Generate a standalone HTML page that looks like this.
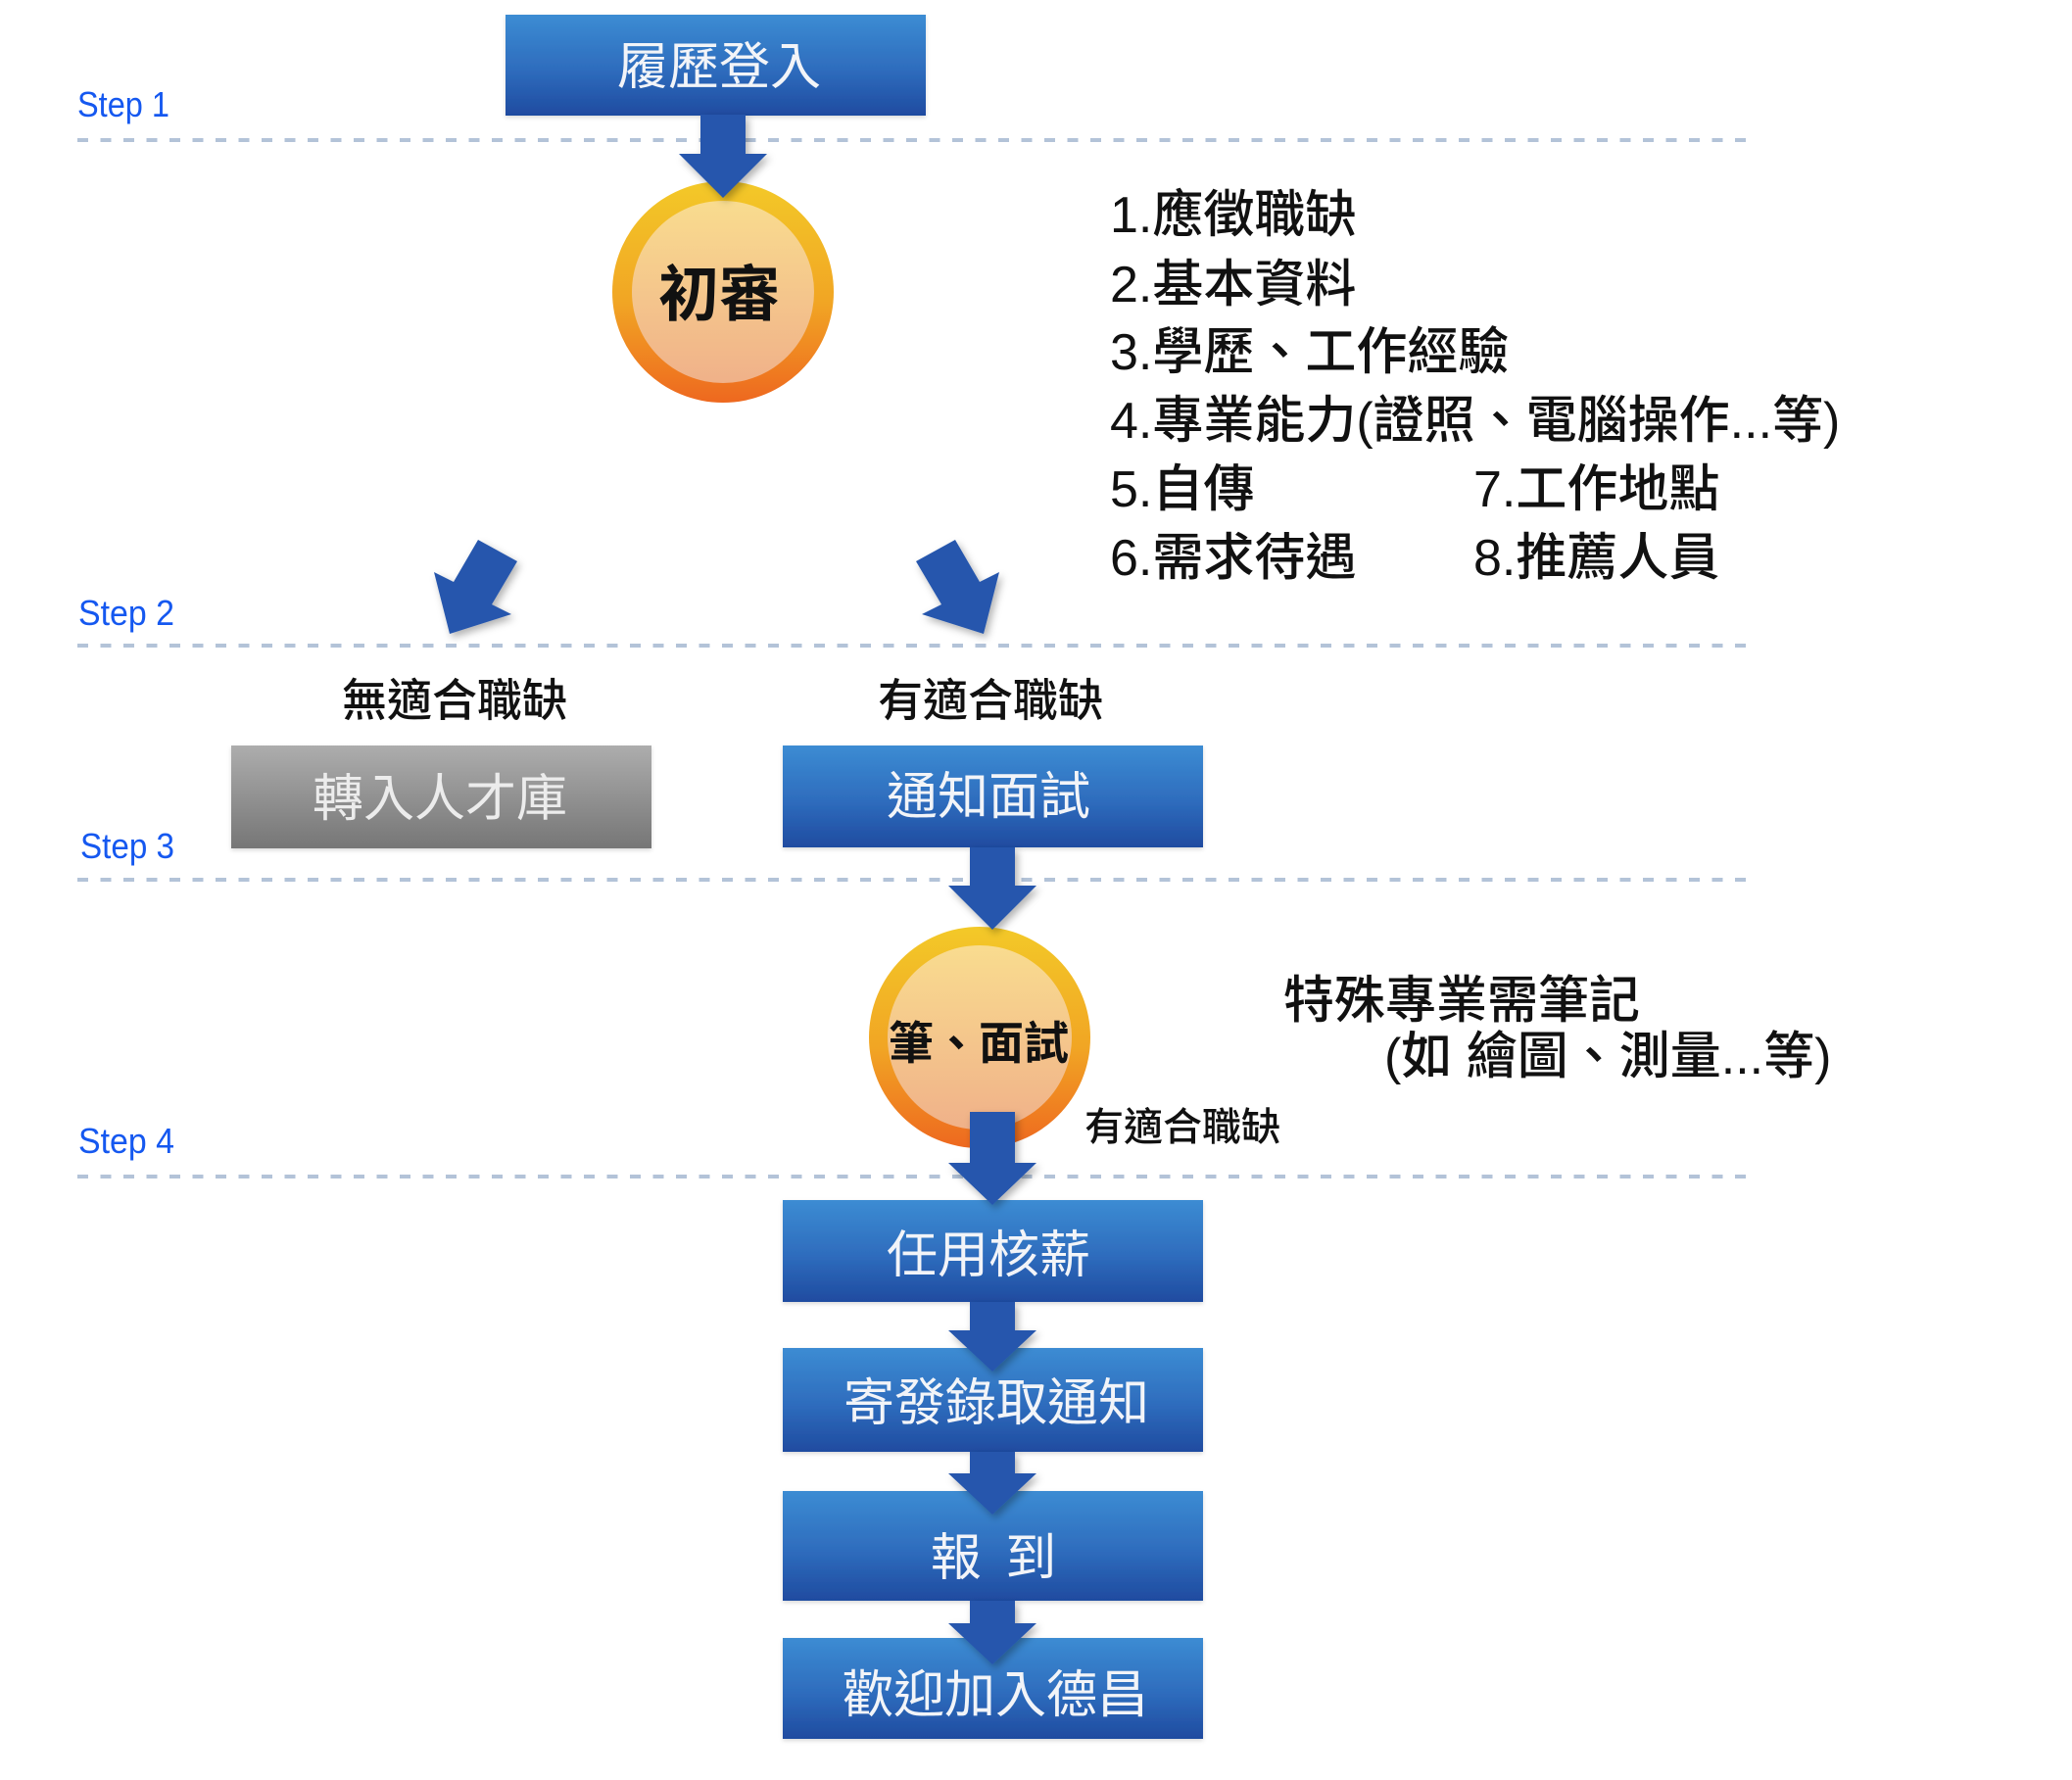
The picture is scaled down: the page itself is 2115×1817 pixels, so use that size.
<!DOCTYPE html>
<html>
<head>
<meta charset="utf-8">
<style>
  html,body{margin:0;padding:0;background:#fff;}
  svg{display:block;}
  .cjk{font-family:"Liberation Sans","Noto Sans CJK TC","Noto Sans CJK SC",sans-serif;}
  .step{font-family:"Liberation Sans",sans-serif;fill:#1558f0;}
</style>
</head>
<body>
<svg width="2115" height="1817" viewBox="0 0 2115 1817" xmlns="http://www.w3.org/2000/svg">
  <defs>
    <linearGradient id="bb" x1="0" y1="0" x2="0" y2="1">
      <stop offset="0" stop-color="#3c8cd3"/>
      <stop offset="0.55" stop-color="#2e6cbd"/>
      <stop offset="1" stop-color="#1f4ba0"/>
    </linearGradient>
    <linearGradient id="gg" x1="0" y1="0" x2="0" y2="1">
      <stop offset="0" stop-color="#adadad"/>
      <stop offset="1" stop-color="#767676"/>
    </linearGradient>
    <linearGradient id="ring" x1="0" y1="0" x2="0" y2="1">
      <stop offset="0" stop-color="#f3c928"/>
      <stop offset="0.55" stop-color="#f1a524"/>
      <stop offset="1" stop-color="#ee681f"/>
    </linearGradient>
    <linearGradient id="inner" x1="0" y1="0" x2="0" y2="1">
      <stop offset="0" stop-color="#f9dc8f"/>
      <stop offset="1" stop-color="#f0b189"/>
    </linearGradient>
    <filter id="sh" x="-30%" y="-30%" width="160%" height="160%">
      <feDropShadow dx="3" dy="4" stdDeviation="4" flood-color="#000" flood-opacity="0.3"/>
    </filter>
    <filter id="bsh" x="-5%" y="-10%" width="110%" height="125%">
      <feDropShadow dx="0" dy="2" stdDeviation="2" flood-color="#000" flood-opacity="0.15"/>
    </filter>
  </defs>

  <!-- dashed step lines -->
  <g stroke="#b3c3d8" stroke-width="4" stroke-dasharray="11 12.5">
    <line x1="79" y1="143" x2="1787" y2="143"/>
    <line x1="79" y1="659" x2="1787" y2="659"/>
    <line x1="79" y1="898" x2="1787" y2="898"/>
    <line x1="79" y1="1201" x2="1787" y2="1201"/>
  </g>

  <!-- step labels -->
  <text class="step" x="79" y="119" font-size="36" textLength="94" lengthAdjust="spacingAndGlyphs">Step 1</text>
  <text class="step" x="80" y="638" font-size="36" textLength="98" lengthAdjust="spacingAndGlyphs">Step 2</text>
  <text class="step" x="82" y="876" font-size="36" textLength="96" lengthAdjust="spacingAndGlyphs">Step 3</text>
  <text class="step" x="80" y="1177" font-size="36" textLength="98" lengthAdjust="spacingAndGlyphs">Step 4</text>

  <!-- boxes -->
  <g filter="url(#bsh)">
    <rect x="516" y="15" width="429" height="103" fill="url(#bb)"/>
    <rect x="236" y="761" width="429" height="105" fill="url(#gg)"/>
    <rect x="799" y="761" width="429" height="104" fill="url(#bb)"/>
    <rect x="799" y="1225" width="429" height="104" fill="url(#bb)"/>
    <rect x="799" y="1376" width="429" height="106" fill="url(#bb)"/>
    <rect x="799" y="1522" width="429" height="112" fill="url(#bb)"/>
    <rect x="799" y="1672" width="429" height="103" fill="url(#bb)"/>
  </g>

  <!-- circles -->
  <circle cx="738" cy="298" r="113" fill="url(#ring)"/>
  <circle cx="738" cy="298" r="93" fill="url(#inner)"/>
  <circle cx="1000" cy="1059" r="113" fill="url(#ring)"/>
  <circle cx="1000" cy="1059" r="94" fill="url(#inner)"/>

  <!-- arrows -->
  <g fill="#2557ad" filter="url(#sh)">
    <path d="M715 117 L761 117 L761 157 L783 157 L738 202 L693 157 L715 157 Z"/>
    <path d="M488 551 L528 573 L502 617 L522 627 L459 647 L443 584 L463 594 Z"/>
    <path d="M975 551 L935 573 L961 617 L941 627 L1004 647 L1020 584 L1000 594 Z"/>
    <path d="M990 865 L1036 865 L1036 904 L1058 904 L1013 949 L968 904 L990 904 Z"/>
    <path d="M990 1135 L1036 1135 L1036 1187 L1058 1187 L1013 1230 L968 1187 L990 1187 Z"/>
    <path d="M990 1329 L1036 1329 L1036 1358 L1058 1358 L1013 1400 L968 1358 L990 1358 Z"/>
    <path d="M990 1482 L1036 1482 L1036 1504 L1058 1504 L1013 1546 L968 1504 L990 1504 Z"/>
    <path d="M990 1634 L1036 1634 L1036 1657 L1058 1657 L1013 1699 L968 1657 L990 1657 Z"/>
  </g>

  <!-- box texts -->
  <g class="cjk" fill="#f2f4f8" font-size="52" text-anchor="middle">
    <text x="734" y="86">履歷登入</text>
    <text x="1009" y="831">通知面試</text>
    <text x="1009" y="1299">任用核薪</text>
    <text x="1017" y="1450">寄發錄取通知</text>
    <text x="1014" y="1608" word-spacing="10">報 到</text>
    <text x="1016" y="1748">歡迎加入德昌</text>
  </g>
  <text class="cjk" x="449" y="833" font-size="52" text-anchor="middle" fill="#ececec">轉入人才庫</text>

  <!-- circle texts -->
  <text class="cjk" x="734" y="322" font-size="62" font-weight="bold" text-anchor="middle" fill="#111">初審</text>
  <text class="cjk" x="999" y="1081" font-size="46" font-weight="bold" text-anchor="middle" fill="#111">筆、面試</text>

  <!-- labels -->
  <g class="cjk" fill="#111">
    <text x="464" y="731" font-size="46" text-anchor="middle" font-weight="500">無適合職缺</text>
    <text x="1011" y="731" font-size="46" text-anchor="middle" font-weight="500">有適合職缺</text>
    <text x="1207" y="1164" font-size="40" text-anchor="middle" font-weight="500">有適合職缺</text>

    <g font-size="52" font-weight="500">
      <text x="1133" y="237">1.應徵職缺</text>
      <text x="1133" y="308">2.基本資料</text>
      <text x="1133" y="377">3.學歷、工作經驗</text>
      <text x="1133" y="447">4.專業能力(證照、電腦操作...等)</text>
      <text x="1133" y="517">5.自傳</text>
      <text x="1133" y="587">6.需求待遇</text>
      <text x="1504" y="517">7.工作地點</text>
      <text x="1504" y="587">8.推薦人員</text>

      <text x="1310" y="1039">特殊專業需筆記</text>
      <text x="1413" y="1096">(如 繪圖、測量...等)</text>
    </g>
  </g>
</svg>
</body>
</html>
